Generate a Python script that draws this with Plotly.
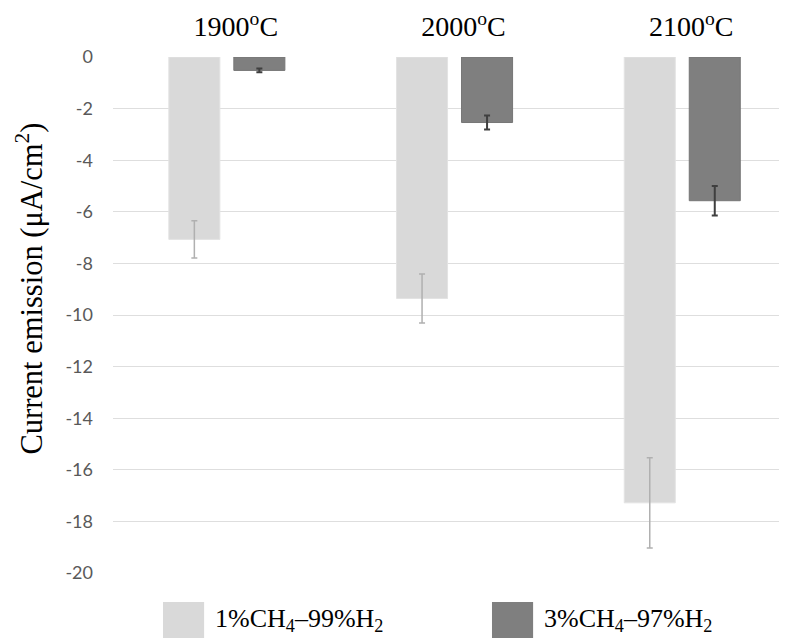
import plotly.graph_objects as go

categories = ["1900<sup>o</sup>C", "2000<sup>o</sup>C", "2100<sup>o</sup>C"]
series_names = ["1%CH<sub>4</sub>–99%H<sub>2</sub>", "3%CH<sub>4</sub>–97%H<sub>2</sub>"]
values_1pct = [-7.07, -9.36, -17.28]
errors_1pct = [0.72, 0.95, 1.75]
values_3pct = [-0.52, -2.54, -5.57]
errors_3pct = [0.07, 0.27, 0.57]
y_tickvals = [0, -2, -4, -6, -8, -10, -12, -14, -16, -18, -20]
y_ticktext = ["0", "-2", "-4", "-6", "-8", "-10", "-12", "-14", "-16", "-18", "-20"]
y_title = "Current emission (μA/cm<sup>2</sup>)"

LIGHT = "#d9d9d9"
DARK = "#7f7f7f"
SERIF = "Liberation Serif, DejaVu Serif, serif"

fig = go.Figure()
fig.add_trace(go.Bar(
    x=categories, y=values_1pct, name=series_names[0],
    marker=dict(color=LIGHT, line=dict(color="#e3e3e3", width=1)),
    error_y=dict(type="data", array=errors_1pct, color="#b0b0b0", thickness=1.5, width=3),
    showlegend=False,
))
fig.add_trace(go.Bar(
    x=categories, y=values_3pct, name=series_names[1],
    marker=dict(color=DARK, line=dict(color="#767676", width=1)),
    error_y=dict(type="data", array=errors_3pct, color="#3f3f3f", thickness=2, width=3),
    showlegend=False,
))

# custom legend (large swatches), swatch geometry in paper coords
legend_items = [(LIGHT, series_names[0], 0.0742), (DARK, series_names[1], 0.5623)]
for color, label, x0 in legend_items:
    fig.add_shape(type="rect", xref="paper", yref="paper",
                  x0=x0, x1=x0 + 0.061, y0=-0.14, y1=-0.056,
                  fillcolor=color, line=dict(width=0))
    fig.add_annotation(xref="paper", yref="paper", x=x0 + 0.074, y=-0.092,
                       text=label, showarrow=False, xanchor="left", yanchor="middle",
                       font=dict(family=SERIF, size=26, color="#000000"))

# y-axis title (placed above centre, as in the reference)
fig.add_annotation(xref="paper", yref="paper", x=-0.124, y=0.552,
                   text=y_title, textangle=-90, showarrow=False,
                   xanchor="center", yanchor="middle",
                   font=dict(family=SERIF, size=30.5, color="#000000"))

fig.update_layout(
    width=779, height=630,
    margin=dict(l=105, r=0, t=47, b=65),
    paper_bgcolor="white", plot_bgcolor="white",
    barmode="group", bargap=0.429, bargroupgap=0.215,
    xaxis=dict(side="top", range=[-0.5, 2.46], showgrid=False, showline=False,
               ticks="", tickfont=dict(family=SERIF, size=28, color="#000000"),
               ticklabelshift=9, ticklabelstandoff=14),
    yaxis=dict(range=[-20, 0], tickvals=y_tickvals, ticktext=y_ticktext,
               showgrid=True, gridcolor="#dedede", gridwidth=1.3,
               zeroline=False, showline=False, ticks="",
               tickfont=dict(family="Lato, Open Sans, sans-serif", size=18, color="#595959"),
               ticklabelstandoff=19),
)

fig.write_html("out.html")
